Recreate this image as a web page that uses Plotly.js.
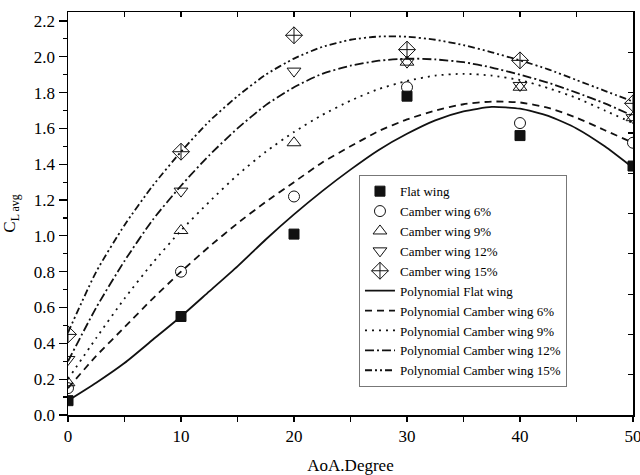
<!DOCTYPE html>
<html>
<head>
<meta charset="utf-8">
<script src="https://cdn.plot.ly/plotly-3.0.1.min.js"></script>
<style>html,body{margin:0;padding:0;background:#fff;}#chart{width:640px;height:475px;}</style>
</head>
<body>
<div id="chart"></div>
<script>
// Measured data points (AoA in degrees, C_L avg)
const aoa = [0, 10, 20, 30, 40, 50];
const flatWing = [0.08, 0.55, 1.01, 1.78, 1.56, 1.39];
const camber6 = [0.15, 0.80, 1.22, 1.83, 1.63, 1.52];
const camber9 = [0.18, 1.03, 1.52, 1.97, 1.83, 1.66];
const camber12 = [0.31, 1.25, 1.92, 1.97, 1.84, 1.66];
const camber15 = [0.45, 1.47, 2.12, 2.04, 1.98, 1.74];

// Polynomial fit curves
const fitAoa = [0, 2.5, 5, 7.5, 10, 12.5, 15, 17.5, 20, 22.5, 25, 27.5, 30, 32.5, 35, 37.5, 40, 42.5, 45, 47.5, 50];
const polyFlat = [0.08, 0.18, 0.29, 0.42, 0.55, 0.69, 0.83, 0.98, 1.12, 1.25, 1.37, 1.48, 1.57, 1.645, 1.695, 1.72, 1.71, 1.67, 1.60, 1.50, 1.38];
const poly6 = [0.15, 0.33, 0.49, 0.65, 0.80, 0.94, 1.07, 1.19, 1.30, 1.41, 1.50, 1.585, 1.65, 1.70, 1.735, 1.75, 1.745, 1.715, 1.66, 1.59, 1.52];
const poly9 = [0.20, 0.43, 0.65, 0.85, 1.03, 1.19, 1.34, 1.47, 1.58, 1.675, 1.755, 1.82, 1.865, 1.895, 1.905, 1.895, 1.87, 1.825, 1.77, 1.70, 1.63];
const poly12 = [0.30, 0.60, 0.86, 1.09, 1.28, 1.45, 1.60, 1.73, 1.83, 1.905, 1.95, 1.978, 1.99, 1.985, 1.97, 1.94, 1.90, 1.855, 1.80, 1.74, 1.67];
const poly15 = [0.46, 0.80, 1.06, 1.28, 1.47, 1.64, 1.78, 1.90, 1.99, 2.055, 2.095, 2.113, 2.112, 2.095, 2.065, 2.025, 1.98, 1.93, 1.87, 1.81, 1.75];

const FONT = "'Liberation Serif', 'Times New Roman', Times, serif";
const ink = '#111';

function pts(name, y, symbol, size) {
  return {
    type: 'scatter', mode: 'markers', name: name, x: aoa, y: y,
    marker: {symbol: symbol, size: size, color: ink, line: {color: ink, width: 1}},
    cliponaxis: true, hoverinfo: 'x+y'
  };
}
function fit(name, y, dash) {
  return {
    type: 'scatter', mode: 'lines', name: name, x: fitAoa, y: y,
    line: {color: ink, width: 1.8, dash: dash, shape: 'spline', smoothing: 0.6},
    hoverinfo: 'x+y'
  };
}

const traces = [
  pts('Flat wing', flatWing, 'square', 10),
  pts('Camber wing 6%', camber6, 'circle-open', 11),
  pts('Camber wing 9%', camber9, 'triangle-up-open', 12),
  pts('Camber wing 12%', camber12, 'triangle-down-open', 12),
  pts('Camber wing 15%', camber15, 'diamond-cross-open', 13),
  fit('Polynomial Flat wing', polyFlat, 'solid'),
  fit('Polynomial Camber wing 6%', poly6, '7px,5px'),
  fit('Polynomial Camber wing 9%', poly9, '2px,5px'),
  fit('Polynomial Camber wing 12%', poly12, '9px,3px,2px,3px'),
  fit('Polynomial Camber wing 15%', poly15, '7px,3px,2px,3px,2px,3px'),
  {type: 'scatter', mode: 'markers', x: [], y: [], xaxis: 'x2', yaxis: 'y2', showlegend: false, hoverinfo: 'skip'}
];

const axisCommon = {
  showline: true, linecolor: '#000', linewidth: 1.5, showgrid: false, zeroline: false,
  tickcolor: '#000', tickwidth: 1.2,
  tickfont: {family: FONT, size: 17, color: '#000'}
};

const layout = {
  width: 640, height: 475,
  margin: {l: 68, r: 7, t: 12, b: 60},
  paper_bgcolor: '#fff', plot_bgcolor: '#fff',
  font: {family: FONT, color: '#000'},
  showlegend: true,
  xaxis: Object.assign({}, axisCommon, {
    range: [0, 50], tick0: 0, dtick: 10, ticks: 'outside', ticklen: 5,
    ticklabeloverflow: 'allow',
    minor: {dtick: 5, ticks: 'outside', ticklen: 5, tickcolor: '#000', tickwidth: 1.2},
    title: {text: 'AoA.Degree', font: {family: FONT, size: 17, color: '#000'}, standoff: 14}
  }),
  yaxis: Object.assign({}, axisCommon, {
    range: [0, 2.25], tick0: 0, dtick: 0.2, ticks: 'outside', ticklen: 8, tickformat: '.1f',
    minor: {dtick: 0.1, ticks: 'outside', ticklen: 4, tickcolor: '#000', tickwidth: 1.2},
    title: {text: 'C<sub>L avg</sub>', font: {family: FONT, size: 17, color: '#000'}, standoff: 14}
  }),
  xaxis2: Object.assign({}, axisCommon, {
    overlaying: 'x', anchor: 'y', side: 'top', range: [0, 50], tick0: 0, dtick: 5,
    ticks: 'inside', ticklen: 5, showticklabels: false
  }),
  yaxis2: Object.assign({}, axisCommon, {
    overlaying: 'y', anchor: 'x', side: 'right', range: [0, 2.25], tick0: 0, dtick: 0.225,
    ticks: 'inside', ticklen: 5, showticklabels: false
  }),
  legend: {
    x: 0.515, y: 0.595, xanchor: 'left', yanchor: 'top',
    bgcolor: '#fff', bordercolor: '#777', borderwidth: 1,
    font: {family: FONT, size: 13, color: '#000'},
    tracegroupgap: 0
  }
};

Plotly.newPlot('chart', traces, layout, {staticPlot: true, displayModeBar: false});
</script>
</body>
</html>
